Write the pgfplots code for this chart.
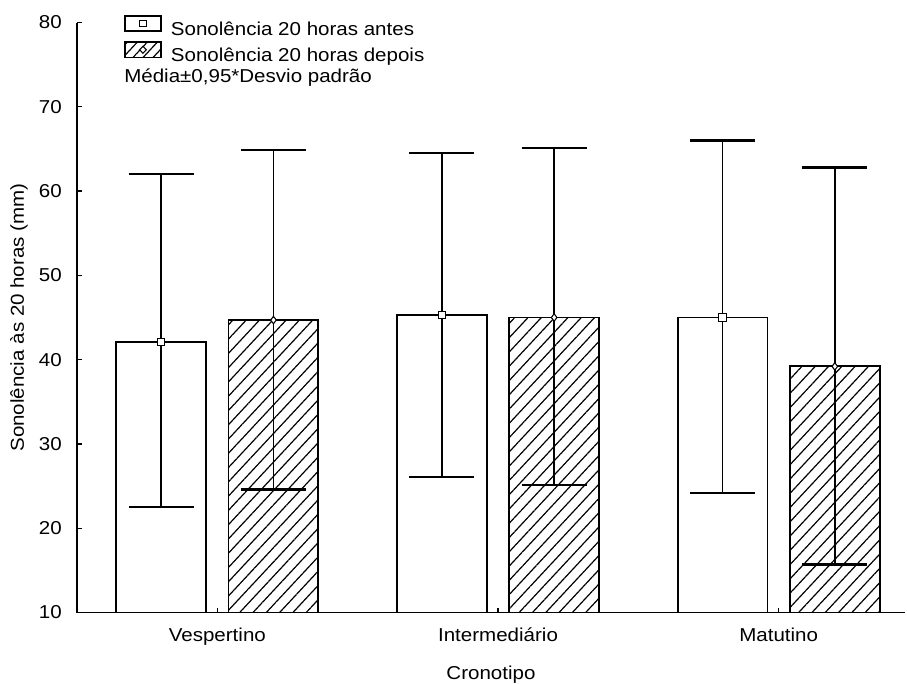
\documentclass[border=0pt]{standalone}
\usepackage{fontspec}
\setmainfont{Liberation Sans}[FakeStretch=1.1]
\usepackage{pgfplots}
\usepackage{pgfplotstable}
\pgfplotsset{compat=1.18}
\usetikzlibrary{patterns.meta}

\pgfplotstableread{
x y ep em
-0.2 42.1 19.9 19.6
0.8 45.3 19.2 19.2
1.8 45.0 21.0 20.8
}\antes
\pgfplotstableread{
x y ep em
0.2 44.7 20.15 20.1
1.2 45.0 20.1 19.9
2.2 39.2 23.6 23.5
}\depois

\begin{document}
\fontsize{14}{17}\selectfont
\begin{tikzpicture}
\begin{axis}[
  at={(0pt,0pt)}, anchor=south west,
  scale only axis, width=621pt, height=442.5pt,
  xmin=-0.5, xmax=2.45, ymin=10, ymax=80,
  axis x line*=bottom, axis y line*=left,
  axis line style={line width=1.4pt, -},
  xtick={0,1,2}, xticklabels={Vespertino,Intermediário,Matutino},
  ytick={10,20,...,80},
  tick align=inside, major tick length=3.75pt,
  tick style={line width=1pt, black},
  /pgf/number format/assume math mode=true,
  yticklabel style={anchor=east, inner sep=0pt, xshift=-11.25pt},
  xticklabel style={anchor=base, inner sep=0pt, yshift=-21.4pt},
  xlabel={Cronotipo}, ylabel={Sonolência às 20 horas (mm)},
  every axis x label/.style={at={(axis description cs:0.5,-0.1136)}, anchor=base, inner sep=0pt},
  every axis y label/.style={at={(axis description cs:-0.0700,0.5)}, rotate=90, anchor=center, inner sep=0pt},
  legend style={at={(axis description cs:0.0568,1.013)}, anchor=north west, draw=none, fill=none,
    inner sep=0pt, outer sep=0pt, row sep=2.5pt, nodes={inner sep=0pt, outer sep=0pt}},
  legend cell align=left,
]
\addplot[ybar, bar width=0.32, bar shift=0pt, draw=black, line width=1.4pt, fill=white,
  legend image code/.code={
    \path[draw=none, fill=none] (0pt,0pt) (34.5pt,0pt);
    \draw[line width=1.4pt, fill=white] (0pt,-1pt) rectangle (27pt,10.6pt);
    \draw[line width=0.8pt, fill=white] (11.1pt,2.4pt) rectangle (15.9pt,7.2pt);}]
  table[x=x, y=y] {\antes};
\addlegendentry{Sonolência 20 horas antes}
\addplot[ybar, bar width=0.32, bar shift=0pt, draw=black, line width=1.4pt, fill=white,
  pattern={Lines[angle=47, distance=7.3pt, line width=0.9pt]},
  legend image code/.code={
    \path[draw=none, fill=none] (0pt,0pt) (34.5pt,0pt);
    \draw[line width=1.4pt, fill=white, pattern={Lines[angle=47, distance=5.5pt, line width=0.9pt]}] (0pt,-1pt) rectangle (27pt,10.6pt);
    \draw[line width=0.8pt, fill=white] (13.5pt,2.2pt) -- (16pt,4.8pt) -- (13.5pt,7.4pt) -- (11pt,4.8pt) -- cycle;}]
  table[x=x, y=y] {\depois};
\addlegendentry{Sonolência 20 horas depois}
\addplot[forget plot, only marks, mark=square*, mark size=2.8pt,
  mark options={fill=white, draw=black, line width=0.8pt},
  error bars/.cd, y dir=both, y explicit, error mark=|,
  error bar style={line width=1.4pt, black},
  error mark options={line width=1.8pt, mark size=24.4pt, black}]
  table[x=x, y=y, y error plus=ep, y error minus=em] {\antes};
\addplot[forget plot, only marks, mark=diamond*, mark size=2.8pt,
  mark options={fill=white, draw=black, line width=0.8pt},
  error bars/.cd, y dir=both, y explicit, error mark=|,
  error bar style={line width=1.4pt, black},
  error mark options={line width=1.8pt, mark size=24.4pt, black}]
  table[x=x, y=y, y error plus=ep, y error minus=em] {\depois};
\node[anchor=base west, inner sep=0pt] at (axis description cs:0.0568,0.8975) {Média±0,95*Desvio padrão};
\end{axis}
\pgfresetboundingbox
\path[use as bounding box] (-57.75pt,-53.6pt) rectangle (622.5pt,459.4pt);
\end{tikzpicture}
\end{document}
